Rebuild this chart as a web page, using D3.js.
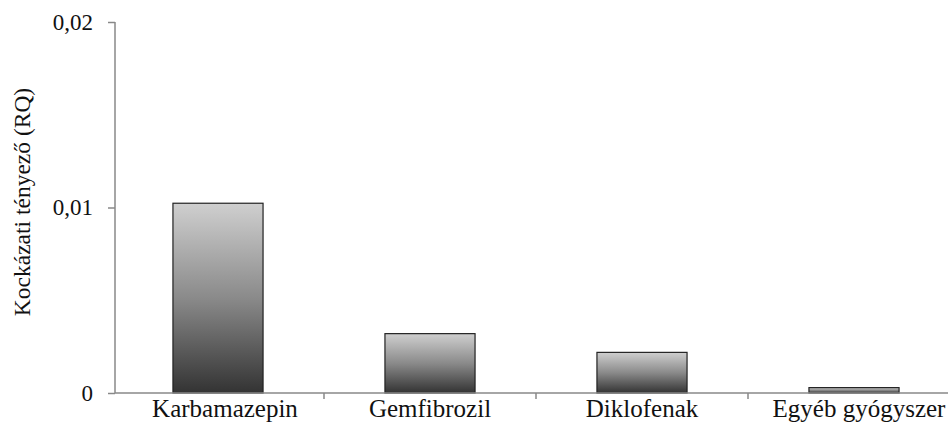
<!DOCTYPE html>
<html><head><meta charset="utf-8">
<script src="https://cdn.jsdelivr.net/npm/d3@7"></script>
</head><body style="margin:0">
<svg id="c" width="948" height="425" font-family="Liberation Serif"></svg>
<script>
const categories = ["Karbamazepin", "Gemfibrozil", "Diklofenak", "Egyéb gyógyszer"];
const values = [0.01023, 0.0032, 0.00219, 0.00029];
const yTicks = [0, 0.01, 0.02];
const yTickLabels = ["0", "0,01", "0,02"];
const yTitle = "Kockázati tényező (RQ)";

const svg = d3.select("#c");
const fam = "Liberation Serif";
const x = d3.scaleBand().domain(categories).range([112, 960]).padding(0);
const y = d3.scaleLinear().domain([0, 0.02]).range([393, 22]);

const defs = svg.append("defs");
const g = defs.append("linearGradient").attr("id", "bg").attr("x1", 0).attr("y1", 0).attr("x2", 0).attr("y2", 1);
g.append("stop").attr("offset", "0%").attr("stop-color", "#cfcfcf");
g.append("stop").attr("offset", "50%").attr("stop-color", "#8a8a8a");
g.append("stop").attr("offset", "100%").attr("stop-color", "#333333");

const barW = x.bandwidth() * 0.425;
svg.selectAll("rect.bar").data(categories).join("rect")
  .attr("class", "bar")
  .attr("x", d => x(d) + x.bandwidth() / 2 - barW / 2)
  .attr("y", (d, i) => y(values[i]))
  .attr("width", barW)
  .attr("height", (d, i) => y(0) - y(values[i]))
  .attr("fill", "url(#bg)")
  .attr("stroke", "#222").attr("stroke-width", 1.2);

// y axis
const yAxis = d3.axisLeft(y).tickValues(yTicks).tickFormat((d, i) => yTickLabels[i]).tickSize(7).tickPadding(15);
const ya = svg.append("g").attr("transform", "translate(115,0)").call(yAxis);
ya.attr("font-family", fam).attr("font-size", 23);
ya.select(".domain").attr("stroke", "#888").attr("stroke-width", 1.5).attr("d", "M0,22V393");
ya.selectAll(".tick line").attr("stroke", "#888").attr("stroke-width", 1.5);
ya.selectAll(".tick text").style("font-family", () => `'${fam}'`).attr("fill", "#111");

// x axis
const xa = svg.append("g").attr("transform", "translate(0,393)");
xa.append("line").attr("x1", 115).attr("x2", 948).attr("y1", 0).attr("y2", 0).attr("stroke", "#888").attr("stroke-width", 1.5);
xa.selectAll("line.tk").data(categories.slice(1)).join("line").attr("class", "tk")
  .attr("x1", d => x(d)).attr("x2", d => x(d)).attr("y1", 0).attr("y2", 6)
  .attr("stroke", "#888").attr("stroke-width", 1.5);
const lastIdx = categories.length - 1;
xa.selectAll("text").data(categories).join("text")
  .attr("x", (d, i) => x(d) + x.bandwidth() / 2 + (i === 0 ? 7 : i === lastIdx ? 5 : 0))
  .attr("y", 24)
  .attr("text-anchor", "middle")
  .style("font-family", () => `'${fam}'`).style("font-size", "25px").attr("fill", "#111")
  .text(d => d);

svg.append("text")
  .attr("transform", "translate(30,202) rotate(-90)")
  .attr("text-anchor", "middle")
  .style("font-family", () => `'${fam}'`).style("font-size", "23.5px").attr("fill", "#111")
  .text(yTitle);
</script>
</body></html>
